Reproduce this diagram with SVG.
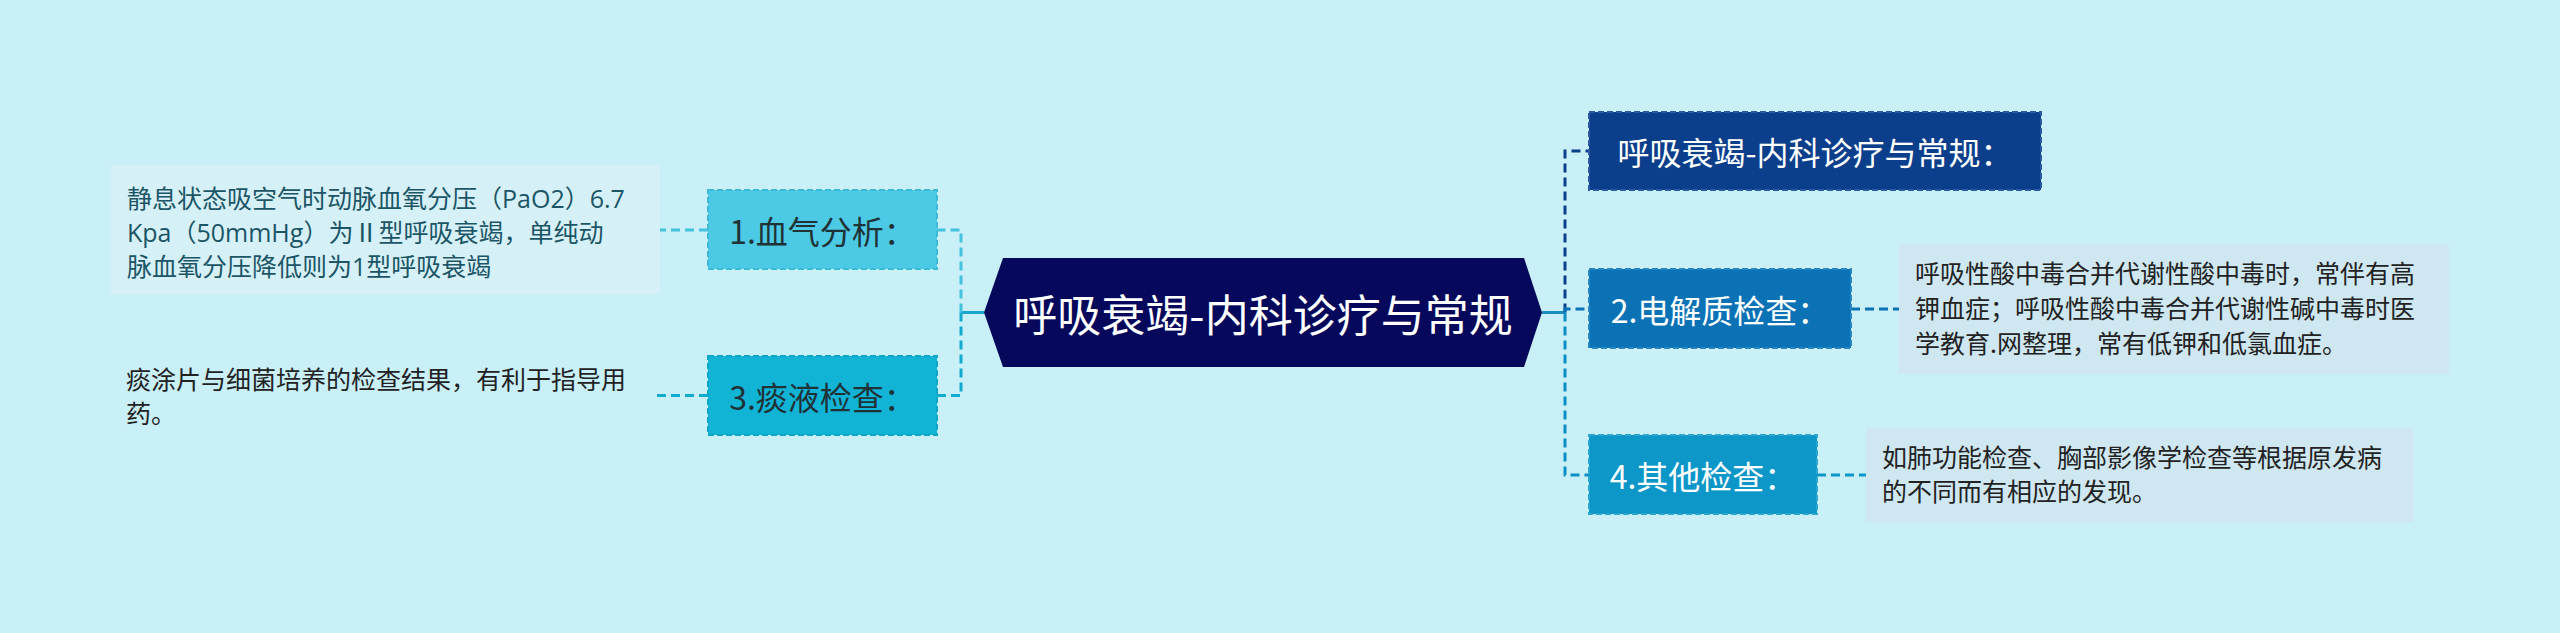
<svg xmlns="http://www.w3.org/2000/svg" width="2560" height="633" viewBox="0 0 2560 633">
<style>
text{font-family:"Noto Sans CJK SC","Noto Sans",sans-serif}
.node rect{stroke-width:2;stroke-dasharray:6 3}
.nt{font-size:32px;dominant-baseline:central;text-anchor:middle}
.dark{fill:#1f3236}
.light{fill:#ffffff}
.txt{font-size:25px}
.lat{font-family:"Open Sans","Noto Sans CJK SC",sans-serif}
.conn{fill:none;stroke-width:3;stroke-dasharray:9 5}
.solid{fill:none;stroke-width:3}
</style>
<rect x="0" y="0" width="2560" height="633" fill="#c9eff7"/>
<g id="connectors">
  <path class="solid" d="M984 312.5 H961" stroke="#1aa6cb"/>
  <path class="conn" d="M961 312.5 V230 H937" stroke="#43c2de"/>
  <path class="conn" d="M961 312.5 V395.5 H937" stroke="#12abd0"/>
  <path class="conn" d="M708 230 H660" stroke="#43c2de"/>
  <path class="conn" d="M708 395.5 H656" stroke="#12abd0"/>
  <path class="solid" d="M1542 312.5 H1565" stroke="#1a8ec0"/>
  <path class="conn" d="M1565 312.5 V151 H1589" stroke="#0c3f8b"/>
  <path class="conn" d="M1565 312.5 V309 H1589" stroke="#0b72b5"/>
  <path class="conn" d="M1565 312.5 V475 H1589" stroke="#0c8fc4"/>
  <path class="conn" d="M1851 309 H1899" stroke="#0b72b5"/>
  <path class="conn" d="M1817 475 H1866" stroke="#0c97c8"/>
</g>
<g id="root">
  <polygon points="984,312.5 1003,258 1524,258 1542,312.5 1524,367 1003,367" fill="#05085b"/>
  <text x="1263" y="312.5" font-size="44" fill="#ffffff" text-anchor="middle" dominant-baseline="central">呼吸衰竭-内科诊疗与常规</text>
</g>
<g id="n1" class="node">
  <rect x="708" y="190" width="229" height="79" fill="#4cc9e4" stroke="#3db9d8"/>
  <text class="nt dark" x="822.5" y="229.5">1.血气分析：</text>
</g>
<g id="n1t">
  <rect x="111" y="165" width="549" height="129" fill="#d5f1f7"/>
  <text class="txt lat" fill="#1c5566"><tspan x="127" y="208">静息状态吸空气时动脉血氧分压（PaO2）6.7</tspan><tspan x="127" y="242">Kpa（50mmHg）为Ⅱ型呼吸衰竭，单纯动</tspan><tspan x="127" y="276">脉血氧分压降低则为1型呼吸衰竭</tspan></text>
</g>
<g id="n3" class="node">
  <rect x="708" y="356" width="229" height="79" fill="#12b4d6" stroke="#0ea5c8"/>
  <text class="nt dark" x="822.5" y="395.5">3.痰液检查：</text>
</g>
<g id="n3t">
  <text class="txt" fill="#222222"><tspan x="126" y="389">痰涂片与细菌培养的检查结果，有利于指导用</tspan><tspan x="126" y="423">药。</tspan></text>
</g>
<g id="r0" class="node">
  <rect x="1589" y="112" width="452" height="78" fill="#0c3f8b" stroke="#2a5aa3"/>
  <text class="nt light" x="1815" y="151">呼吸衰竭-内科诊疗与常规：</text>
</g>
<g id="n2" class="node">
  <rect x="1589" y="269" width="262" height="79" fill="#0b72b5" stroke="#2a86c2"/>
  <text class="nt light" x="1720" y="308.5">2.电解质检查：</text>
</g>
<g id="n2t">
  <rect x="1899" y="244" width="550" height="130" fill="#cfe7f0"/>
  <text class="txt" fill="#222222"><tspan x="1915" y="283">呼吸性酸中毒合并代谢性酸中毒时，常伴有高</tspan><tspan x="1915" y="318">钾血症；呼吸性酸中毒合并代谢性碱中毒时医</tspan><tspan x="1915" y="353">学教育.网整理，常有低钾和低氯血症。</tspan></text>
</g>
<g id="n4" class="node">
  <rect x="1589" y="435" width="228" height="79" fill="#0c97c8" stroke="#2aa6d2"/>
  <text class="nt light" x="1703" y="474.5">4.其他检查：</text>
</g>
<g id="n4t">
  <rect x="1866" y="428" width="547" height="94" fill="#cfe7f0"/>
  <text class="txt" fill="#222222"><tspan x="1882" y="467">如肺功能检查、胸部影像学检查等根据原发病</tspan><tspan x="1882" y="501">的不同而有相应的发现。</tspan></text>
</g>
</svg>
